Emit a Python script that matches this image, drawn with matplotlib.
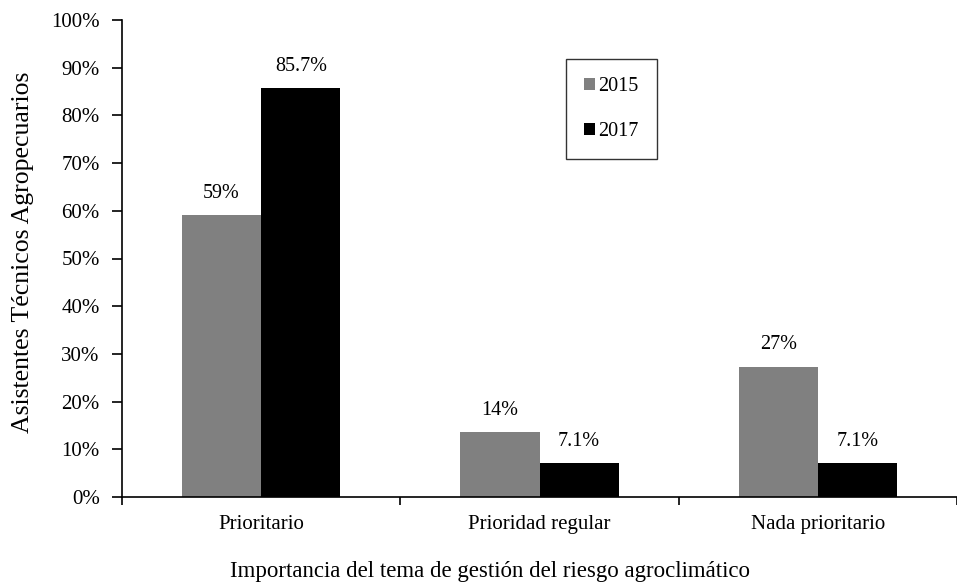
import numpy as np
import matplotlib.pyplot as plt
from matplotlib.ticker import PercentFormatter

plt.rcParams['font.family'] = ['Liberation Serif', 'DejaVu Serif']

categories = ["Prioritario", "Prioridad regular", "Nada prioritario"]
years = ["2015", "2017"]
values_2015 = [59.1, 13.6, 27.3]
values_2017 = [85.7, 7.1, 7.1]
labels_2015 = ["59%", "14%", "27%"]
labels_2017 = ["85.7%", "7.1%", "7.1%"]

fig = plt.figure(figsize=(9.57, 5.86), dpi=100)
ax = fig.add_axes([122/957, 1 - 497/586, 835/957, 477/586])

x = np.arange(len(categories))
w = 0.285
b1 = ax.bar(x - w/2, values_2015, w, color="#808080", label=years[0])
b2 = ax.bar(x + w/2, values_2017, w, color="black", label=years[1])

for bars, labs in ((b1, labels_2015), (b2, labels_2017)):
    for bar, lab in zip(bars, labs):
        ax.annotate(lab, (bar.get_x() + bar.get_width()/2, bar.get_height()),
                    xytext=(0, 9), textcoords="offset points",
                    ha="center", va="bottom", fontsize=14.5)

ax.set_xlim(-0.5, -0.5 + 835/281.3)
ax.set_ylim(0, 100)
ax.set_yticks(np.arange(0, 101, 10))
ax.yaxis.set_major_formatter(PercentFormatter(decimals=0))
ax.set_xticks(x)
ax.set_xticklabels(categories)
ax.set_xticks(np.arange(-0.5, 3, 1), minor=True)
ax.tick_params(axis="x", which="major", length=0, pad=13, labelsize=15)
ax.tick_params(axis="x", which="minor", length=6, direction="out", width=1.2)
ax.tick_params(axis="y", length=7, direction="out", width=1.2, labelsize=15, pad=9)

for s in ("top", "right"):
    ax.spines[s].set_visible(False)
for s in ("left", "bottom"):
    ax.spines[s].set_linewidth(1.2)

ax.set_xlabel("Importancia del tema de gestión del riesgo agroclimático",
              fontsize=16.5)
ax.xaxis.set_label_coords((490 - 122)/835, (497 - 561)/477)
ax.set_ylabel("Asistentes Técnicos Agropecuarios", fontsize=18.5)
ax.yaxis.set_label_coords((34 - 122)/835, 0.512)

leg = ax.legend(loc="upper left", bbox_to_anchor=(566/957, 1 - 59/586),
                bbox_transform=fig.transFigure, frameon=True, fancybox=False,
                edgecolor="black", fontsize=14.5, handlelength=0.55,
                handleheight=0.55, handletextpad=0.15, labelspacing=1.3,
                borderpad=0.9, borderaxespad=0)
leg.get_frame().set_linewidth(1.0)

fig.savefig("out.png", dpi=100)
